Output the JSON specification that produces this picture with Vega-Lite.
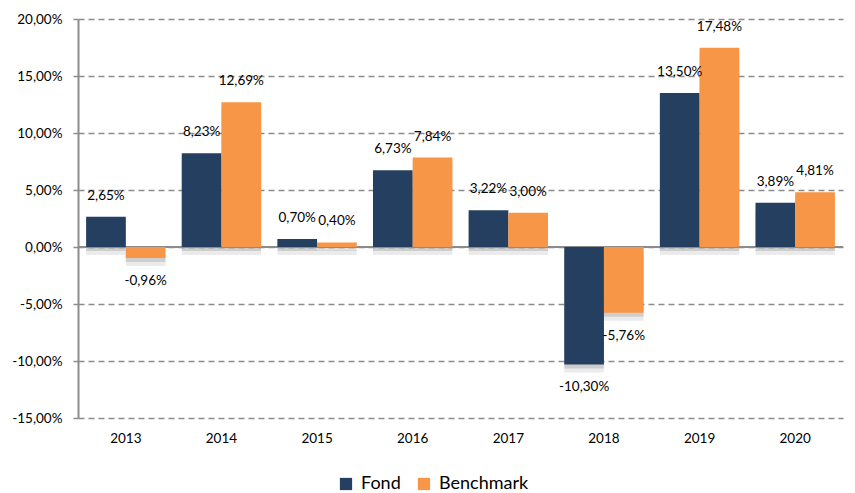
{
  "$schema": "https://vega.github.io/schema/vega-lite/v6.json",
  "width": 765,
  "height": 399,
  "autosize": "none",
  "padding": {"left": 78, "top": 19, "right": 12, "bottom": 75},
  "config": {
    "locale": {"number": {"decimal": ",", "thousands": ".", "grouping": [3], "currency": ["", " €"], "minus": "-"}},
    "font": "Lato",
    "view": {"stroke": null},
    "axis": {"labelFont": "Lato", "labelColor": "#000000", "labelFontSize": 13.5, "labelOverlap": false}
  },
  "data": {
    "values": [
      {"year": "2013", "series": "Fond", "value": 0.0265},
      {"year": "2013", "series": "Benchmark", "value": -0.0096},
      {"year": "2014", "series": "Fond", "value": 0.0823},
      {"year": "2014", "series": "Benchmark", "value": 0.1269},
      {"year": "2015", "series": "Fond", "value": 0.0070},
      {"year": "2015", "series": "Benchmark", "value": 0.0040},
      {"year": "2016", "series": "Fond", "value": 0.0673},
      {"year": "2016", "series": "Benchmark", "value": 0.0784},
      {"year": "2017", "series": "Fond", "value": 0.0322},
      {"year": "2017", "series": "Benchmark", "value": 0.0300},
      {"year": "2018", "series": "Fond", "value": -0.1030},
      {"year": "2018", "series": "Benchmark", "value": -0.0576},
      {"year": "2019", "series": "Fond", "value": 0.1350},
      {"year": "2019", "series": "Benchmark", "value": 0.1748},
      {"year": "2020", "series": "Fond", "value": 0.0389},
      {"year": "2020", "series": "Benchmark", "value": 0.0481}
    ]
  },
  "layer": [
    {
      "mark": {"type": "bar", "color": "#000000", "opacity": 0.08, "yOffset": 8},
      "encoding": {
        "x": {"field": "year", "type": "nominal", "scale": {"paddingInner": 0.17, "paddingOuter": 0.085},
          "axis": {"orient": "bottom", "title": null, "labelAngle": 0, "ticks": false, "domain": false, "labelPadding": 13}},
        "xOffset": {"field": "series", "type": "nominal", "sort": ["Fond", "Benchmark"], "scale": {"paddingInner": 0}},
        "y": {"field": "value", "type": "quantitative", "scale": {"domain": [-0.15, 0.2], "nice": false},
          "axis": {"orient": "left", "format": ".2%", "values": [-0.15, -0.1, -0.05, 0, 0.05, 0.1, 0.15, 0.2], "title": null, "grid": true, "gridDash": [6, 4], "gridColor": "#8c8c8c", "gridWidth": 1.5, "domainColor": "#8c8c8c", "domainWidth": 2, "tickColor": "#8c8c8c", "tickSize": 5, "tickWidth": 1.5, "labelPadding": 11, "labelOverlap": false}}
      }
    },
    {
      "mark": {"type": "bar", "color": "#000000", "opacity": 0.12, "yOffset": 4},
      "encoding": {
        "x": {"field": "year", "type": "nominal"},
        "xOffset": {"field": "series", "type": "nominal", "sort": ["Fond", "Benchmark"]},
        "y": {"field": "value", "type": "quantitative"}
      }
    },
    {
      "mark": {"type": "rule", "color": "#8c8c8c", "strokeWidth": 1.5},
      "encoding": {"y": {"datum": 0, "type": "quantitative"}}
    },
    {
      "mark": {"type": "bar"},
      "encoding": {
        "x": {"field": "year", "type": "nominal"},
        "xOffset": {"field": "series", "type": "nominal", "sort": ["Fond", "Benchmark"]},
        "y": {"field": "value", "type": "quantitative"},
        "color": {"field": "series", "type": "nominal", "scale": {"domain": ["Fond", "Benchmark"], "range": ["#253F61", "#F79646"]},
          "legend": {"title": null, "orient": "none", "direction": "horizontal", "legendX": 259, "legendY": 456, "symbolType": "square", "symbolSize": 150, "symbolStrokeWidth": 0, "labelFontSize": 18, "labelFont": "Lato", "labelColor": "#000000", "columnPadding": 14, "labelOffset": 6}}
      }
    },
    {
      "transform": [{"filter": "datum.value >= 0"}],
      "mark": {"type": "text", "dy": -21, "fontSize": 13.5, "color": "#000000", "baseline": "middle"},
      "encoding": {
        "x": {"field": "year", "type": "nominal"},
        "xOffset": {"field": "series", "type": "nominal", "sort": ["Fond", "Benchmark"]},
        "y": {"field": "value", "type": "quantitative"},
        "text": {"field": "value", "type": "quantitative", "format": ".2%"}
      }
    },
    {
      "transform": [{"filter": "datum.value < 0"}],
      "mark": {"type": "text", "dy": 23, "fontSize": 13.5, "color": "#000000", "baseline": "middle"},
      "encoding": {
        "x": {"field": "year", "type": "nominal"},
        "xOffset": {"field": "series", "type": "nominal", "sort": ["Fond", "Benchmark"]},
        "y": {"field": "value", "type": "quantitative"},
        "text": {"field": "value", "type": "quantitative", "format": ".2%"}
      }
    }
  ]
}
